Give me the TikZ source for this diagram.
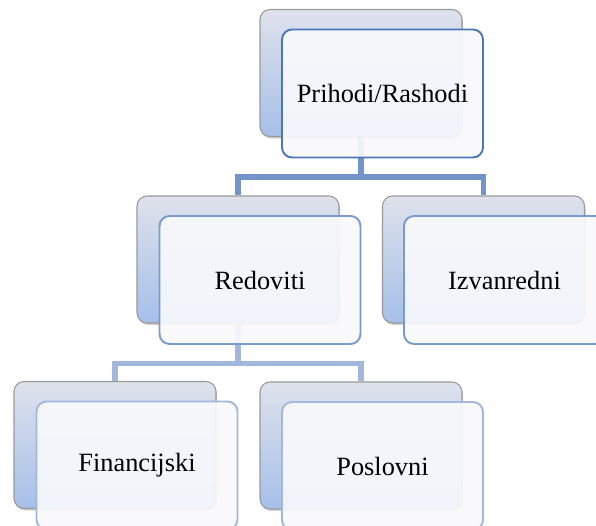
\documentclass[tikz,border=0pt]{standalone}
\usepackage{fontspec}
\setmainfont{Liberation Serif}
\usepackage{tikz}
\usetikzlibrary{shadows}
\usetikzlibrary{positioning}

\definecolor{backtop}{HTML}{DEE2EB}
\definecolor{backbot}{HTML}{A6BFEA}
\definecolor{frontfill}{HTML}{F8F9FC}
\definecolor{lineA}{HTML}{7294C8}
\definecolor{lineB}{HTML}{A2B7DC}
\definecolor{rubA}{HTML}{4B77B6}
\definecolor{rubB}{HTML}{7A9BCC}
\definecolor{rubC}{HTML}{A3B8DC}

\tikzset{
	pozadina/.style={draw=gray!80, line width=0.6pt, rounded corners=0.2cm,
		minimum width=4.04cm, minimum height=2.54cm, inner sep=0pt,
		top color=backtop, bottom color=backbot,
		drop shadow={shadow xshift=0.6pt, shadow yshift=-1.2pt, opacity=0.35}},
	kartica/.style={draw=#1, line width=1.1pt, rounded corners=0.2cm,
		minimum width=4.02cm, minimum height=2.56cm, inner sep=0pt,
		fill=frontfill, fill opacity=0.92, text opacity=1,
		font=\fontsize{15}{18}\selectfont},
	veza/.style={line width=3.4pt, draw=#1}
}

\begin{document}
\begin{tikzpicture}[x=0.02cm, y=-0.02cm]
	\useasboundingbox (0,0) rectangle (596,526);
	% stražnje kartice
	\node[pozadina] (prihodiB) at (361,73) {};
	\node[pozadina] (redovitiB) at (238,259.5) {};
	\node[pozadina] (izvanredniB) at (483.5,259.5) {};
	\node[pozadina] (financijskiB) at (115,445) {};
	\node[pozadina] (poslovniB) at (361,445.5) {};
	% veze
	\draw[veza=lineA] (prihodiB.south) -- ++(0,40) -| (redovitiB.north);
	\draw[veza=lineA] (prihodiB.south) ++(0,40) -| (izvanredniB.north);
	\draw[veza=lineB] (redovitiB.south) -- ++(0,40) -| (financijskiB.north);
	\draw[veza=lineB] (redovitiB.south) ++(0,40) -| (poslovniB.north);
	% prednje kartice
	\node[kartica=rubA] (prihodi) at (382.5,93.5) {Prihodi/Rashodi};
	\node[kartica=rubB] (redoviti) at (260,280) {Redoviti};
	\node[kartica=rubB] (izvanredni) at (504.5,280) {Izvanredni};
	\node[kartica=rubC] (financijski) at (137,465.5) {Financijski};
	\node[kartica=rubC] (poslovni) at (382.5,466) {Poslovni};
\end{tikzpicture}
\end{document}
